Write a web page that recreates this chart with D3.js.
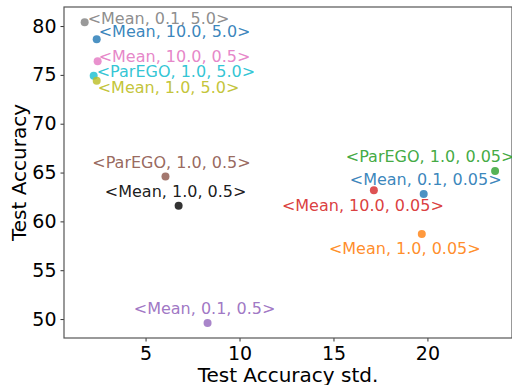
<!DOCTYPE html>
<html>
<head>
<meta charset="utf-8">
<script src="https://cdn.jsdelivr.net/npm/d3@7"></script>
<style>
  body { margin: 0; background: #fff; }
  text { font-family: "DejaVu Sans", sans-serif; }
</style>
</head>
<body>
<svg id="chart" width="512" height="385"></svg>
<script>
// data
var labels = ["<Mean, 0.1, 5.0>", "<Mean, 10.0, 5.0>", "<Mean, 10.0, 0.5>", "<ParEGO, 1.0, 5.0>",
              "<Mean, 1.0, 5.0>", "<ParEGO, 1.0, 0.5>", "<Mean, 1.0, 0.5>", "<Mean, 0.1, 0.5>",
              "<Mean, 10.0, 0.05>", "<Mean, 0.1, 0.05>", "<ParEGO, 1.0, 0.05>", "<Mean, 1.0, 0.05>"];
var stdValues = [1.76, 2.40, 2.45, 2.24, 2.40, 6.06, 6.76, 8.30, 17.15, 19.8, 23.6, 19.7];
var accValues = [80.4, 78.65, 76.4, 74.9, 74.4, 64.6, 61.6, 49.6, 63.2, 62.8, 65.15, 58.7];
var colors = ["#7f7f7f", "#1f77b4", "#e377c2", "#17becf", "#bcbd22", "#8c564b",
              "#000000", "#9467bd", "#d62728", "#1f77b4", "#2ca02c", "#ff7f0e"];
var xTicks = [5, 10, 15, 20];
var yTicks = [50, 55, 60, 65, 70, 75, 80];

// label placement (pixel offsets from the point, anchor)
var labelDx = [3, 2, 1, 3, 1, 6, -3, -3, -11, 2, -65, -17];
var labelDy = [-4, -8, -5, -4, 7, -14, -14, -15, 15, -15, -15, 14];
var labelAnchor = ["start", "start", "start", "start", "start", "middle", "middle", "middle",
                   "middle", "middle", "middle", "middle"];

var svg = d3.select("#chart");
var margin = {left: 64, top: 7, right: 0, bottom: 47};
var width = 512 - margin.left - margin.right,
    height = 385 - margin.top - margin.bottom;

var x = d3.scaleLinear().domain([0.66, 24.5]).range([0, width]);
var y = d3.scaleLinear().domain([48.06, 81.95]).range([height, 0]);

var g = svg.append("g").attr("transform", "translate(" + margin.left + "," + margin.top + ")");

var xAxis = g.append("g")
    .attr("transform", "translate(0," + height + ")")
    .call(d3.axisBottom(x).tickValues(xTicks).tickSize(3.5).tickPadding(5).tickFormat(d3.format("d")));
var yAxis = g.append("g")
    .call(d3.axisLeft(y).tickValues(yTicks).tickSize(3.5).tickPadding(4).tickFormat(d3.format("d")));

[xAxis, yAxis].forEach(function(a)
{
    a.select(".domain").remove();
    a.selectAll(".tick line").attr("stroke", "#333");
    a.selectAll(".tick text").attr("fill", "#000").style("font-size", "19px")
        .style("font-family", "DejaVu Sans");
});

// frame
g.append("rect")
    .attr("x", 0).attr("y", 0)
    .attr("width", width).attr("height", height)
    .attr("fill", "none").attr("stroke", "#555").attr("stroke-width", 1.2);

var idx = d3.range(labels.length);

g.selectAll("circle.pt")
    .data(idx)
    .enter().append("circle")
    .attr("class", "pt")
    .attr("cx", function(i) { return x(stdValues[i]); })
    .attr("cy", function(i) { return y(accValues[i]); })
    .attr("r", 4)
    .attr("fill", function(i) { return colors[i]; })
    .attr("fill-opacity", 0.8);

g.selectAll("text.lbl")
    .data(idx)
    .enter().append("text")
    .attr("class", "lbl")
    .attr("x", function(i) { return x(stdValues[i]) + labelDx[i]; })
    .attr("y", function(i) { return y(accValues[i]) + labelDy[i]; })
    .attr("dy", "0.35em")
    .attr("text-anchor", function(i) { return labelAnchor[i]; })
    .attr("fill", function(i) { return colors[i]; })
    .attr("fill-opacity", 0.9)
    .style("font-size", "16px")
    .text(function(i) { return labels[i]; });

svg.append("text")
    .attr("x", margin.left + width / 2)
    .attr("y", 382)
    .attr("text-anchor", "middle")
    .style("font-size", "20px")
    .text("Test Accuracy std.");

svg.append("text")
    .attr("transform", "translate(26," + (margin.top + height / 2) + ") rotate(-90)")
    .attr("text-anchor", "middle")
    .style("font-size", "20px")
    .text("Test Accuracy");
</script>
</body>
</html>
